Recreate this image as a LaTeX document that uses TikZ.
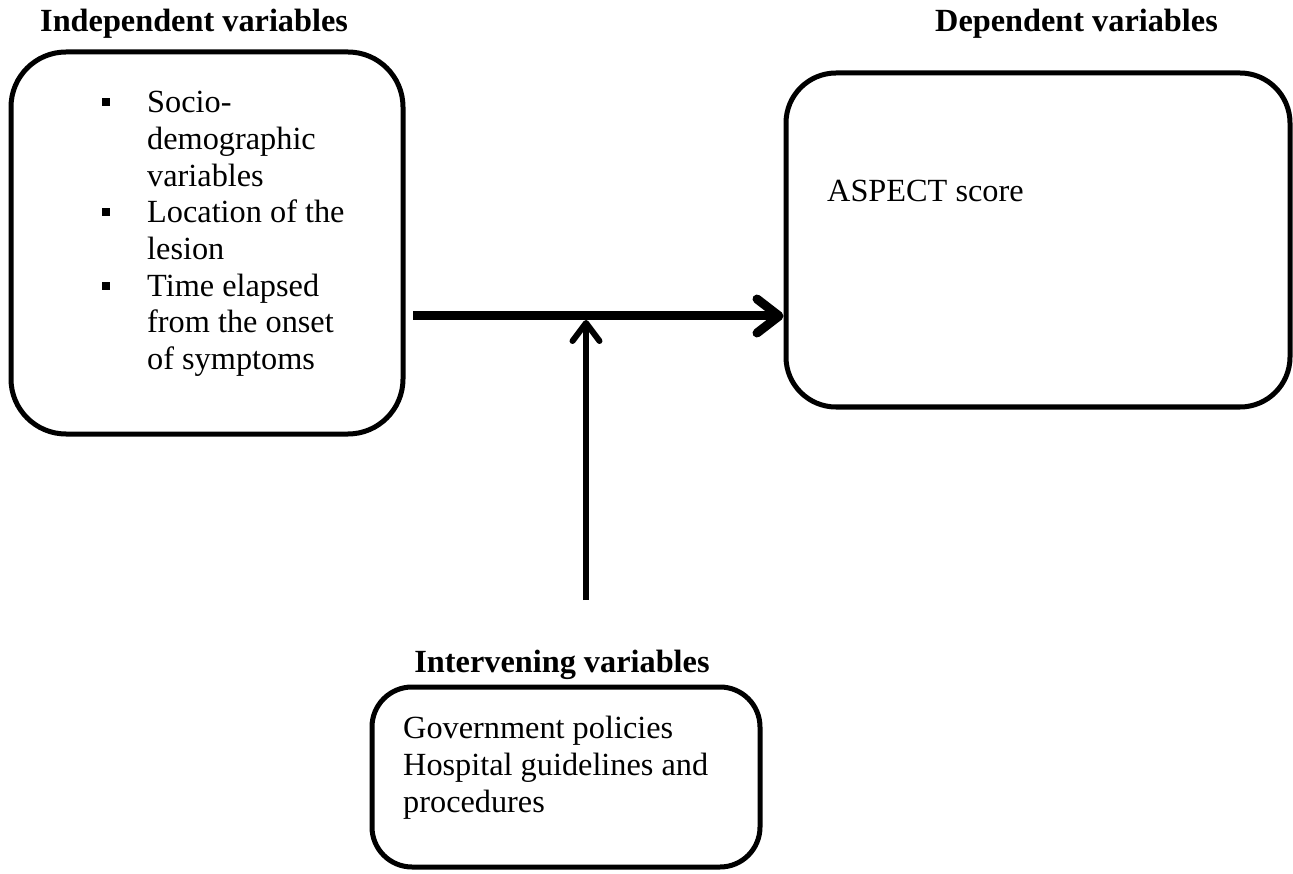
\documentclass[tikz,border=0pt]{standalone}
\usepackage{fontspec}
\setmainfont{Liberation Serif}
\usetikzlibrary{arrows.meta}
\tikzset{
  box/.style={draw, line width=5pt, rounded corners=#1, inner sep=0pt},
  txt/.style={anchor=base west, inner sep=0pt, font=\fontsize{32.3pt}{36.7pt}\selectfont},
  head/.style={anchor=base west, inner sep=0pt, font=\fontsize{32.3pt}{36.7pt}\selectfont\bfseries},
  bul/.style={fill=black, inner sep=0pt, minimum size=7.5pt},
  harrow/.style={line width=9pt, -{Straight Barb[length=22pt,width=34pt,line cap=round,line join=round]}},
  varrow/.style={line width=6pt, -{Straight Barb[length=18pt,width=27pt,line cap=round,line join=round]}}
}
\begin{document}
\begin{tikzpicture}[x=1pt,y=-1pt]
\fill[white] (0,0) rectangle (1293,874);
\useasboundingbox (0,0) rectangle (1293,874);
% headings
\node[head] (hind) at (40,32) {Independent variables};
\node[head] (hdep) at (935,32) {Dependent variables};
\node[head, anchor=base] (hint) at (562,672) {Intervening variables};
% boxes
\node[box=55pt, minimum width=392pt, minimum height=382pt] (lb) at (207,243) {};
\node[box=50pt, minimum width=504pt, minimum height=334pt] (rb) at (1038,240) {};
\node[box=40pt, minimum width=388pt, minimum height=180pt] (bb) at (566,777) {};
% left box items
\node[bul] (b1) at (106,102) {};
\node[bul] (b2) at (106,212) {};
\node[bul] (b3) at (106,286) {};
\foreach \t/\y [count=\i] in {Socio-/113, demographic/150, variables/187, Location of the/223, lesion/260, Time elapsed/297, from the onset/333, of symptoms/370}
  \node[txt] (l\i) at (147,\y) {\t};
% right box text
\node[txt] (asp) at (827,202) {ASPECT score};
% bottom box text
\node[txt] (g1) at (403,738) {Government policies};
\node[txt] (g2) at (403,775) {Hospital guidelines and};
\node[txt] (g3) at (403,812) {procedures};
% connectors
\coordinate (hs) at (413,316);
\draw[harrow] (hs) -- (rb.west |- hs);
\coordinate (vs) at (586,600);
\coordinate (vt) at (586,320);
\draw[varrow] (vs) -- (vt);
\end{tikzpicture}
\end{document}
